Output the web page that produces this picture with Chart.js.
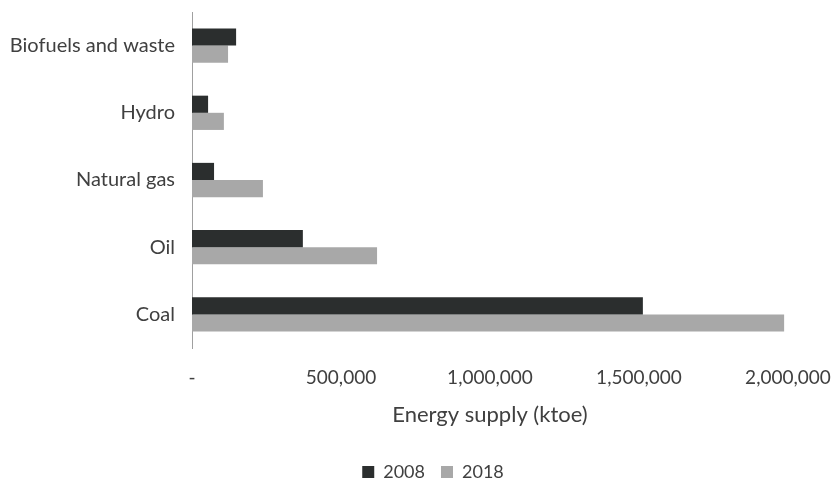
<!DOCTYPE html>
<html>
<head>
<meta charset="utf-8">
<script src="https://cdn.jsdelivr.net/npm/chart.js@4/dist/chart.umd.min.js"></script>
<style>
  html, body { margin: 0; padding: 0; background: #ffffff; }
  #wrap { width: 836px; height: 486px; }
</style>
</head>
<body>
<div id="wrap"><canvas id="c" width="836" height="486"></canvas></div>
<script>
// Primary energy supply by source, ktoe
const categories = ['Biofuels and waste', 'Hydro', 'Natural gas', 'Oil', 'Coal'];
const supply2008 = [148000, 54000, 74000, 372000, 1513000];
const supply2018 = [121000, 107000, 238000, 621000, 1987000];
const seriesNames = ['2008', '2018'];
const xTicks = [0, 500000, 1000000, 1500000, 2000000];

const textColor = '#404040';
const fontFamily = 'Lato, "Open Sans", "Noto Sans", sans-serif';

// Nudge the legend block slightly right/down, under the value axis title
const legendNudge = {
  id: 'legendNudge',
  afterLayout(chart) {
    const lg = chart.legend;
    if (!lg) return;
    lg.left += 15; lg.right += 15;
    lg.top += 5; lg.bottom += 5;
  }
};

new Chart(document.getElementById('c'), {
  type: 'bar',
  data: {
    labels: categories,
    datasets: [
      { label: seriesNames[0], data: supply2008, backgroundColor: '#2b2e2e' },
      { label: seriesNames[1], data: supply2018, backgroundColor: '#a8a8a8' }
    ]
  },
  plugins: [legendNudge],
  options: {
    indexAxis: 'y',
    responsive: false,
    animation: false,
    devicePixelRatio: 1,
    layout: { padding: { top: 12, right: 0, left: 0, bottom: 0 } },
    datasets: { bar: { barPercentage: 1.0, categoryPercentage: 0.51 } },
    plugins: {
      legend: {
        position: 'bottom',
        labels: {
          color: textColor,
          font: { family: fontFamily, size: 18 },
          boxWidth: 12,
          boxHeight: 12,
          padding: 16
        }
      },
      tooltip: { enabled: false }
    },
    scales: {
      y: {
        grid: { display: false },
        border: { display: true, color: '#a0a0a0', width: 1 },
        ticks: {
          color: textColor,
          font: { family: fontFamily, size: 20 },
          padding: 9
        },
        afterFit: (scale) => {
          scale.width = 192;
          scale.paddingTop = 0;
          scale.paddingBottom = 0;
        }
      },
      x: {
        min: 0,
        max: 2000000,
        afterBuildTicks: (scale) => { scale.ticks = xTicks.map(v => ({ value: v })); },
        grid: { display: false },
        border: { display: false },
        ticks: {
          color: textColor,
          font: { family: fontFamily, size: 19 },
          padding: 10,
          maxRotation: 0,
          callback: (v) => v === 0 ? '-' : Number(v).toLocaleString('en-US')
        },
        title: {
          display: true,
          text: 'Energy supply (ktoe)',
          color: textColor,
          font: { family: fontFamily, size: 22 },
          padding: { top: 0, bottom: 14 }
        },
        afterFit: (scale) => {
          scale.height = 94;
          scale.paddingLeft = 0;
          scale.paddingRight = 48;
        }
      }
    }
  }
});
</script>
</body>
</html>
